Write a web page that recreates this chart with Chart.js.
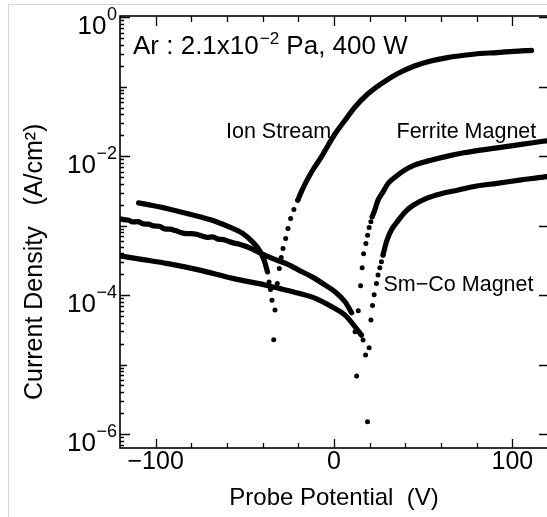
<!DOCTYPE html>
<html><head><meta charset="utf-8">
<script src="https://cdn.jsdelivr.net/npm/chart.js@4/dist/chart.umd.min.js"></script>
<style>
html,body{margin:0;padding:0;overflow:hidden;background:#fff;width:547px;height:517px;}
#frame{position:absolute;left:8px;top:4px;width:600px;height:600px;border-left:1px solid #d6d6d6;border-top:1px solid #d6d6d6;}
#wrap{position:absolute;left:0;top:0;width:552px;height:517px;}
</style></head><body>
<div id="frame"></div>
<div id="wrap"><canvas id="c" width="552" height="517"></canvas></div>
<script>
// ---- data: [probe potential (V), current density (A/cm^2)] ----
const ionStreamIonBranch = [[-109.6,2.13e-3],[-93.8,1.77e-3],[-75.3,1.34e-3],[-66,1.14e-3],[-56.8,9.12e-4],[-51.2,7.73e-4],[-45.7,5.85e-4],[-41.9,4.44e-4],[-39.2,3.19e-4],[-37.3,2.16e-4]];
const ionStreamDipDots = [[-36.4,1.55e-4],[-35.6,1.20e-4],[-34.8,8.41e-5],[-33.8,2.28e-5],[-33.1,6.08e-5],[-31.8,1.47e-4],[-30.7,2.42e-4],[-29.6,3.48e-4],[-28.6,4.70e-4],[-27.1,6.55e-4],[-25.8,9.12e-4],[-24.3,1.27e-3],[-22.5,1.71e-3],[-20.3,2.33e-3]];
const ionStreamElectronBranch = [[-20.3,2.33e-3],[-17.9,3.24e-3],[-15.1,4.52e-3],[-11.4,6.65e-3],[-7.7,9.2e-3],[-4.9,1.22e-2],[0.7,2.12e-2],[6.2,3.30e-2],[11.8,5.12e-2],[19.2,7.98e-2],[26.6,0.111],[35.8,0.155],[45.1,0.199],[54.3,0.235],[63.6,0.263],[72.9,0.284],[82.1,0.301],[91.4,0.310],[100.7,0.324],[110.8,0.335]];

const ferriteIonBranch = [[-120,1.26e-3],[-118,1.22e-3],[-115,1.20e-3],[-113,1.13e-3],[-110,1.14e-3],[-107,1.06e-3],[-104,1.05e-3],[-101,9.9e-4],[-98,9.8e-4],[-95,9.0e-4],[-92,8.9e-4],[-89,8.5e-4],[-86,8.0e-4],[-83,7.7e-4],[-80,7.7e-4],[-77,7.5e-4],[-74,7.1e-4],[-71,6.8e-4],[-68,6.9e-4],[-65,6.4e-4],[-62,6.3e-4],[-59,5.9e-4],[-56,5.6e-4],[-53,5.4e-4],[-50,5.1e-4],[-47,4.75e-4],[-44,4.35e-4],[-41.9,4.1e-4],[-34.6,3.37e-4],[-27.1,2.86e-4],[-19.7,2.29e-4],[-12.3,1.83e-4],[-4.9,1.39e-4],[0.7,1.11e-4],[6.2,8.02e-5],[9.9,5.56e-5]];
const ferriteDipDots = [[11.8,2.96e-5],[12.7,6.84e-6],[13.6,5.94e-5],[14.9,1.36e-4],[15.8,2.47e-4],[16.6,3.93e-4],[17.9,5.55e-4],[18.8,7.29e-4],[19.7,9.42e-4],[20.7,1.14e-3],[21.4,1.34e-3]];
const ferriteElectronBranch = [[21.4,1.34e-3],[22.8,1.66e-3],[24.7,2.33e-3],[27.5,3.06e-3],[30.3,4.05e-3],[34,4.94e-3],[39.6,6.30e-3],[45.1,7.43e-3],[54.3,8.75e-3],[65,1.02e-2],[72.9,1.12e-2],[91.4,1.32e-2],[105,1.48e-2],[117.3,1.64e-2],[120,1.68e-2]];

const smcoIonBranch = [[-120,3.68e-4],[-107,3.24e-4],[-93.8,2.86e-4],[-75.3,2.29e-4],[-56.8,1.74e-4],[-38.2,1.39e-4],[-30.8,1.25e-4],[-19.7,1.06e-4],[-10.4,8.97e-5],[-1.2,6.79e-5],[6.2,5.15e-5],[11.8,3.50e-5],[15.4,2.65e-5]];
const smcoDipDots = [[16.3,2.25e-5],[17.7,1.37e-5],[18.8,1.50e-6],[19.7,1.75e-5],[20.7,4.37e-5],[21.6,7.11e-5],[22.5,1.01e-4],[23.8,1.47e-4],[24.7,1.94e-4],[25.7,2.47e-4],[26.6,3.01e-4],[27.5,3.77e-4]];
const smcoElectronBranch = [[27.5,3.77e-4],[29.2,5.62e-4],[30.6,7.08e-4],[32.1,8.61e-4],[35.8,1.17e-3],[39.6,1.55e-3],[44.2,1.95e-3],[52.5,2.51e-3],[60,2.88e-3],[69.2,3.24e-3],[80,3.72e-3],[91.4,4.07e-3],[105,4.57e-3],[117.3,5.01e-3],[120,5.13e-3]];

// ---- ticks & texts ----
const xTickValues = [-100, 0, 100];
const xTickLabels = ['\u2212100', '0', '100'];
const yTickExponents = [0, -2, -4, -6];
const yTickExponentLabels = ['0', '\u22122', '\u22124', '\u22126'];
const xAxisTitle = 'Probe Potential  (V)';
const yAxisTitle = 'Current Density   (A/cm\u00B2)';
const conditionText = ['Ar : 2.1x10', '\u22122', ' Pa, 400 W'];
const seriesNames = ['Ion Stream', 'Ferrite Magnet', 'Sm\u2212Co Magnet'];

const FONT = '"Liberation Sans", Arial, Helvetica, sans-serif';
const pts = a => a.map(([x, y]) => ({x, y}));
const curve = d => ({data: pts(d), showLine: true, borderColor: '#000', borderWidth: 5.2, pointRadius: 0,
  borderCapStyle: 'round', borderJoinStyle: 'round', cubicInterpolationMode: 'monotone', fill: false});
const dots = d => ({data: pts(d), showLine: false, pointRadius: 2.5, pointBackgroundColor: '#000',
  pointBorderWidth: 0, pointBorderColor: '#000'});

const decor = {
  id: 'decor',
  afterDraw(chart) {
    const {ctx, chartArea: a, scales: {x, y}} = chart;
    ctx.save();
    ctx.strokeStyle = '#000';
    ctx.lineWidth = 1.6;
    ctx.strokeRect(a.left, a.top, a.right - a.left, a.bottom - a.top);
    ctx.lineWidth = 1.3;
    ctx.beginPath();
    for (let d = -7; d <= 0; d++) {
      for (let m = 1; m <= 9; m++) {
        const v = m * Math.pow(10, d);
        if (v < y.min || v > y.max) continue;
        const py = Math.round(y.getPixelForValue(v)) + 0.5;
        const len = m === 1 ? (d % 2 === 0 ? 10 : 7) : 4;
        ctx.moveTo(a.left, py); ctx.lineTo(a.left + len, py);
        if (m === 1) { ctx.moveTo(a.right, py); ctx.lineTo(a.right - 9, py); }
      }
    }
    for (let v = x.min + 20; v < x.max; v += 20) {
      const px = Math.round(x.getPixelForValue(v)) + 0.5;
      const major = v % 100 === 0;
      ctx.moveTo(px, a.bottom); ctx.lineTo(px, a.bottom - (major ? 9 : 5));
      ctx.moveTo(px, a.top); ctx.lineTo(px, a.top + (major ? 10 : 6));
    }
    ctx.stroke();

    ctx.fillStyle = '#000';
    ctx.textBaseline = 'alphabetic';

    // y tick labels 10^n
    ctx.textAlign = 'right';
    yTickExponents.forEach((e, i) => {
      const py = y.getPixelForValue(Math.pow(10, e));
      ctx.font = '18px ' + FONT;
      const lab = yTickExponentLabels[i];
      const w = ctx.measureText(lab).width;
      const xr = a.left - 3;
      ctx.fillText(lab, xr, py + 3);
      ctx.font = '26px ' + FONT;
      ctx.fillText('10', xr - w - 0.5, py + 17);
    });

    // y axis title (rotated)
    ctx.save();
    ctx.translate(42, 400);
    ctx.rotate(-Math.PI / 2);
    ctx.textAlign = 'left';
    ctx.font = '25px ' + FONT;
    ctx.fillText(yAxisTitle, 0, 0);
    ctx.restore();

    // annotations
    ctx.textAlign = 'left';
    let cx = a.left + 13, cy = a.top + 38;
    ctx.font = '26px ' + FONT;
    ctx.fillText(conditionText[0], cx, cy);
    cx += ctx.measureText(conditionText[0]).width + 1;
    ctx.font = '17px ' + FONT;
    ctx.fillText(conditionText[1], cx, cy - 10);
    cx += ctx.measureText(conditionText[1]).width;
    ctx.font = '26px ' + FONT;
    ctx.fillText(conditionText[2], cx, cy);

    ctx.font = '21.5px ' + FONT;
    ctx.fillText(seriesNames[0], 226, 138);
    ctx.fillText(seriesNames[1], 396.5, 138);
    ctx.fillText(seriesNames[2], 383.5, 291);
    ctx.restore();
  }
};

new Chart(document.getElementById('c'), {
  type: 'scatter',
  data: {
    datasets: [
      curve(ionStreamIonBranch), dots(ionStreamDipDots), curve(ionStreamElectronBranch),
      curve(ferriteIonBranch), dots(ferriteDipDots), curve(ferriteElectronBranch),
      curve(smcoIonBranch), dots(smcoDipDots), curve(smcoElectronBranch)
    ]
  },
  options: {
    responsive: false, animation: false, devicePixelRatio: 1,
    layout: {padding: {left: 0, right: 0, top: 16, bottom: 0}},
    plugins: {legend: {display: false}, tooltip: {enabled: false}},
    scales: {
      x: {
        type: 'linear', min: -120, max: 120, position: 'bottom',
        grid: {display: false, drawTicks: false}, border: {display: false},
        ticks: {stepSize: 20, autoSkip: false, maxRotation: 0, minRotation: 0, padding: 2, color: '#000',
          font: {family: FONT, size: 25, lineHeight: 1},
          callback: v => { const i = xTickValues.indexOf(v); return i >= 0 ? xTickLabels[i] : ''; }},
        title: {display: true, text: xAxisTitle, color: '#000', font: {family: FONT, size: 24}, padding: {top: 0, bottom: 4}},
        afterFit(s) { s.height = 69; }
      },
      y: {
        type: 'logarithmic', min: 6.29e-7, max: 1.044, position: 'left',
        grid: {display: false, drawTicks: false}, border: {display: false},
        ticks: {display: false},
        title: {display: false},
        afterFit(s) { s.width = 120; }
      }
    }
  },
  plugins: [decor]
});
</script>
</body></html>
